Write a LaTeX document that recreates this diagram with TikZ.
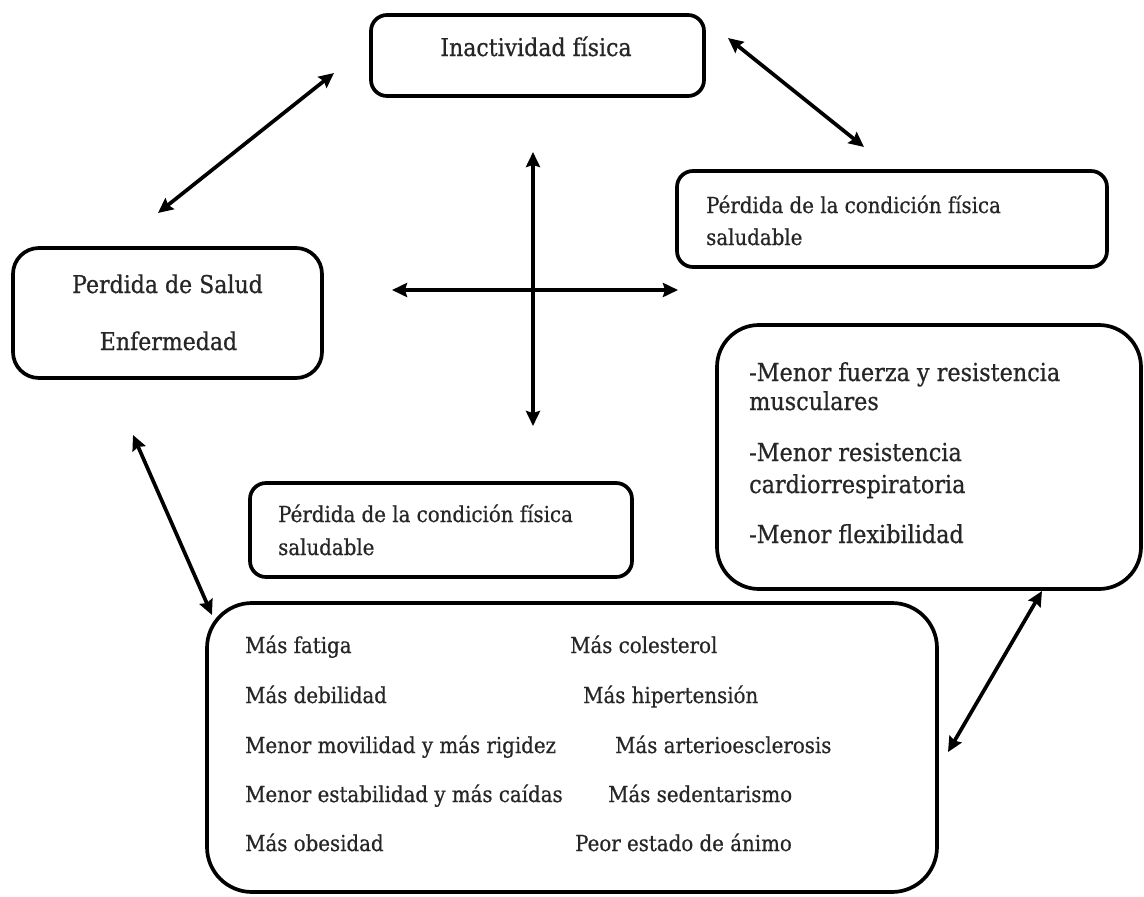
\documentclass[tikz,border=0pt]{standalone}
\usepackage{fontspec}
\setmainfont[FakeStretch=0.9,FakeBold=0.7]{DejaVu Serif}
\usetikzlibrary{arrows.meta}
\begin{document}
\begin{tikzpicture}[x=1pt,y=-1pt,
  panel/.style={draw=black, line width=3.7pt, rounded corners=#1, inner sep=0pt},
  panel/.default=16pt,
  txt/.style={anchor=base west, inner sep=0pt, text=black!85, font=\fontsize{22}{26}\selectfont},
  ctxt/.style={txt, anchor=base, font=\fontsize{24.5}{28}\selectfont},
  bigtxt/.style={txt, font=\fontsize{24.8}{28}\selectfont},
  tip/.tip={Stealth[length=15pt,width=14pt,inset=2pt]},
  link/.style={line width=3.7pt, tip-tip}]
\useasboundingbox (0,0) rectangle (1144,897);

% boxes
\node[panel, minimum width=333pt, minimum height=81pt] (inact) at (537.5,55.5) {};
\node[panel, minimum width=430pt, minimum height=96pt] (condR) at (892,219) {};
\node[panel=26pt, minimum width=309pt, minimum height=130pt] (salud) at (167.5,313) {};
\node[panel=42pt, minimum width=424pt, minimum height=264pt] (menor) at (929,457) {};
\node[panel, minimum width=382pt, minimum height=94pt] (condM) at (441,530) {};
\node[panel=45pt, minimum width=730pt, minimum height=289pt] (efectos) at (572,747.5) {};

% texts
\node[ctxt] (tInact) at (536,56) {Inactividad física};
\node[txt] (tCondR1) at (706,213) {Pérdida de la condición física};
\node[txt] (tCondR2) at (706,245) {saludable};
\node[ctxt] (tSalud1) at (167.5,293) {Perdida de Salud};
\node[ctxt] (tSalud2) at (168.5,350) {Enfermedad};
\node[bigtxt] (tMen1) at (749,381) {-Menor fuerza y resistencia};
\node[bigtxt] (tMen2) at (749,410) {musculares};
\node[bigtxt] (tMen3) at (749,461) {-Menor resistencia};
\node[bigtxt] (tMen4) at (749,493) {cardiorrespiratoria};
\node[bigtxt] (tMen5) at (749,543) {-Menor flexibilidad};
\node[txt] (tCondM1) at (278,522) {Pérdida de la condición física};
\node[txt] (tCondM2) at (278,555) {saludable};

\node[txt] (e1) at (245,653) {Más fatiga};
\node[txt] (e2) at (245,703) {Más debilidad};
\node[txt] (e3) at (245,753) {Menor movilidad y más rigidez};
\node[txt] (e4) at (245,802) {Menor estabilidad y más caídas};
\node[txt] (e5) at (245,851) {Más obesidad};
\node[txt] (f1) at (570,653) {Más colesterol};
\node[txt] (f2) at (583,703) {Más hipertensión};
\node[txt] (f3) at (615,753) {Más arterioesclerosis};
\node[txt] (f4) at (608,802) {Más sedentarismo};
\node[txt] (f5) at (575,851) {Peor estado de ánimo};

% arrow ends
\coordinate (saludNE) at (158,213);
\coordinate (inactSW) at (334,73);
\coordinate (inactE) at (728,38);
\coordinate (condRN) at (864,147);
\coordinate (crossN) at (533,152);
\coordinate (crossS) at (533,426);
\coordinate (crossW) at (392,290);
\coordinate (crossE) at (678,290);
\coordinate (saludS) at (133,435);
\coordinate (efectosNW) at (212,615);
\coordinate (menorS) at (1042,591);
\coordinate (efectosE) at (948,752);

% connectors
\draw[link] (saludNE) -- (inactSW);
\draw[link] (inactE) -- (condRN);
\draw[link] (crossN) -- (crossS);
\draw[link] (crossW) -- (crossE);
\draw[link] (saludS) -- (efectosNW);
\draw[link] (menorS) -- (efectosE);
\end{tikzpicture}
\end{document}
